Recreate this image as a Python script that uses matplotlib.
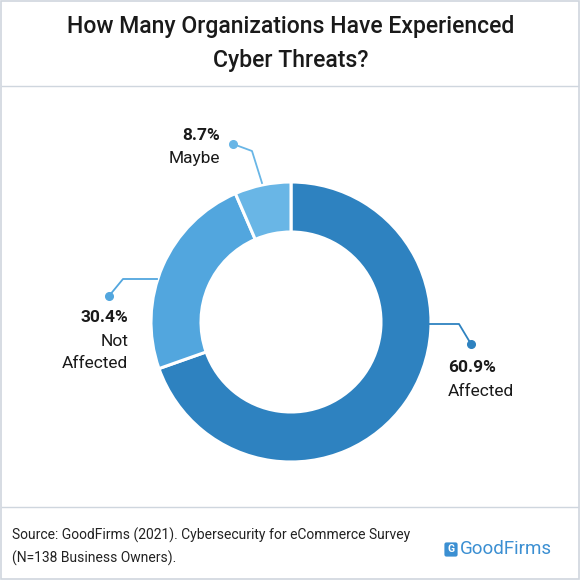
"""Donut chart: organizations that experienced cyber threats."""

import matplotlib

matplotlib.use("Agg", force=True)
import matplotlib.pyplot as plt
from matplotlib.patches import FancyBboxPatch, Rectangle

plt.rcParams["font.family"] = ["Roboto", "DejaVu Sans"]

# data
categories = ["Affected", "Not Affected", "Maybe"]
label_pcts = [60.9, 30.4, 8.7]            # printed percentages
slice_shares = [69.6, 23.9, 6.5]          # arc shares as drawn in the picture
colors = ["#2e82c0", "#52a6de", "#69b6e6"]
label_lines = [["Affected"], ["Not", "Affected"], ["Maybe"]]

title_lines = ["How Many Organizations Have Experienced", "Cyber Threats?"]
source_lines = ["Source: GoodFirms (2021). Cybersecurity for eCommerce Survey",
                "(N=138 Business Owners)."]

W = H = 580
fig = plt.figure(figsize=(5.8, 5.8), dpi=100)
ax = fig.add_axes([0, 0, 1, 1])

center = (291, 258)
ax.pie(slice_shares, colors=colors, startangle=90, counterclock=False,
       center=center, radius=140, frame=True,
       wedgeprops=dict(width=50, edgecolor="white", linewidth=2.2))
ax.set_xlim(0, W)
ax.set_ylim(0, H)
ax.set_aspect("equal")
ax.axis("off")

# frame and separators
ax.add_patch(Rectangle((1, 1), W - 2, H - 2, fill=False, edgecolor="#cfd6de", lw=1.2))
ax.plot([2, W - 2], [494, 494], color="#cfd6de", lw=1)
ax.plot([2, W - 2], [73, 73], color="#cfd6de", lw=1)

# title
ax.text(291, 553, title_lines[0], ha="center", va="center", fontsize=16.6,
        fontweight="medium", color="#1a1a1a")
ax.text(291, 520, title_lines[1], ha="center", va="center", fontsize=16.6,
        fontweight="medium", color="#1a1a1a")

# leader lines
leaders = [
    ([429, 459, 471], [256, 256, 236]),
    ([157, 123, 109], [301, 301, 284]),
    ([262, 252, 233], [397, 429, 436]),
]
for (xs, ys), c in zip(leaders, colors):
    ax.plot(xs, ys, color=c, lw=1.3)
    ax.plot(xs[-1], ys[-1], "o", color=c, ms=5.5)

# labels
label_pos = [(448, 212, "left"), (128, 262, "right"), (220, 445, "right")]
for (x, y, ha), pct, lines in zip(label_pos, label_pcts, label_lines):
    ax.text(x, y, f"{pct}%", ha=ha, va="center", fontsize=12.5,
            fontweight="bold", color="#1a1a1a")
    for i, line in enumerate(lines):
        ax.text(x, y - 24 - 22 * i, line, ha=ha, va="center", fontsize=12.5,
                color="#1a1a1a")

# footer
ax.text(12, 45, source_lines[0], ha="left", va="center", fontsize=10, color="#222222")
ax.text(12, 22, source_lines[1], ha="left", va="center", fontsize=10, color="#222222")

ax.add_patch(FancyBboxPatch((445, 24), 12, 13, boxstyle="round,pad=0.6,rounding_size=2",
                            facecolor="#3b8fd2", edgecolor="none"))
ax.text(447.5, 30.5, "G", ha="left", va="center", fontsize=7.5, color="white",
        fontweight="bold")
ax.text(460, 30.5, "GoodFirms", ha="left", va="center", fontsize=13.5, color="#3b8fd2")

fig.savefig("out.png", dpi=100)
plt.close(fig)
